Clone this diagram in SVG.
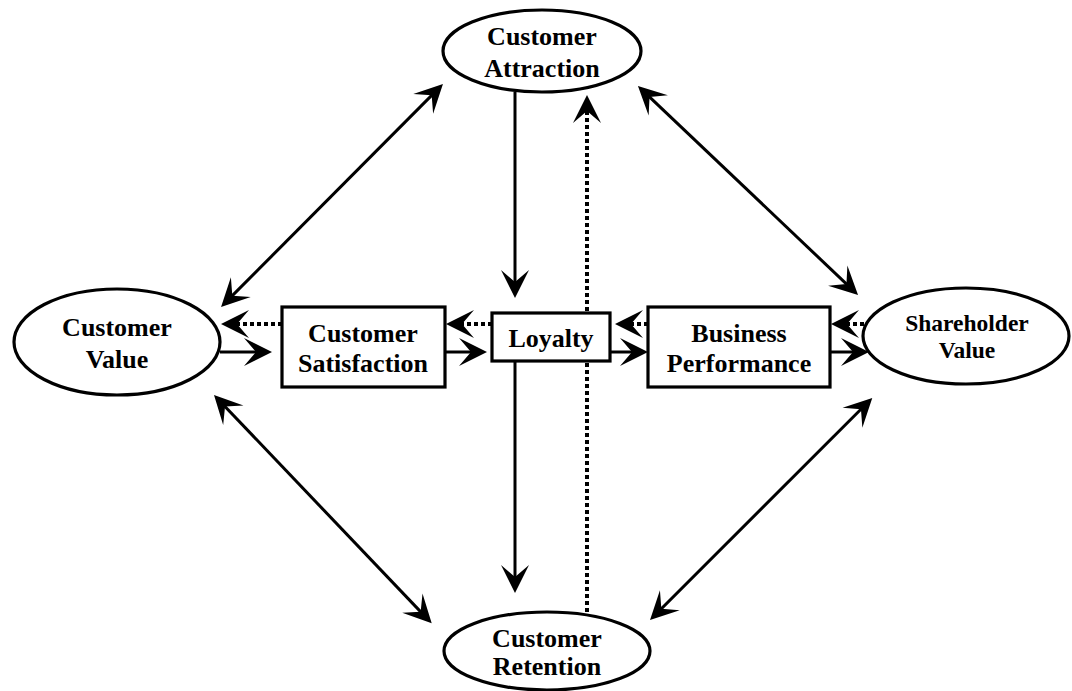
<svg xmlns="http://www.w3.org/2000/svg" width="1072" height="691" viewBox="0 0 1072 691">
<style>
.node{fill:#fff;stroke:#000;stroke-width:3.2}
.lbl{font-family:"Liberation Serif",serif;font-weight:700;font-size:26px;fill:#000;text-anchor:middle}
.sm{font-size:23.5px}
.solid{stroke:#000;stroke-width:3;fill:none}
.dot{stroke:#000;stroke-width:4;stroke-dasharray:4 3;fill:none}
.e{marker-end:url(#ah)}
.b{marker-start:url(#ah);marker-end:url(#ah)}
</style>
<defs>
<marker id="ah" markerUnits="userSpaceOnUse" viewBox="-22 -16 34 32" refX="0" refY="0" markerWidth="34" markerHeight="32" orient="auto-start-reverse">
<path d="M10,0 L-18,-14 L-6,0 L-18,14 Z" fill="#000"/>
</marker>
</defs>
<rect width="1072" height="691" fill="#fff"/>
<g id="connectors">
<path class="solid b" d="M228.1,299.9 L435.9,91.1"/>
<path class="solid b" d="M645.2,92.9 L850.8,288.1"/>
<path class="solid b" d="M220.9,402.2 L424.8,616.1"/>
<path class="solid b" d="M865.2,405.0 L657.1,613.0"/>
<path class="solid e" d="M515,92 L515,288"/>
<path class="solid e" d="M515,361 L515,583"/>
<path class="dot e" d="M587,612 L587,105"/>
<path class="solid e" d="M220,352 L262,352"/>
<path class="dot e" d="M282,324 L231,324"/>
<path class="solid e" d="M445,352 L477,352"/>
<path class="dot e" d="M492,324 L456,324"/>
<path class="solid e" d="M610,352 L638,352"/>
<path class="dot e" d="M648,324 L625,324"/>
<path class="solid e" d="M830,352 L859,352"/>
<path class="dot e" d="M864,324 L841,324"/>
</g>
<g id="customer-attraction">
<ellipse class="node" cx="542" cy="51" rx="99" ry="41"/>
<text class="lbl" x="542" y="45">Customer</text>
<text class="lbl" x="542" y="77">Attraction</text>
</g>
<g id="customer-retention">
<ellipse class="node" cx="547" cy="651" rx="103" ry="39"/>
<text class="lbl" x="547" y="647">Customer</text>
<text class="lbl" x="547" y="675">Retention</text>
</g>
<g id="customer-value">
<ellipse class="node" cx="117" cy="342" rx="103" ry="53"/>
<text class="lbl" x="117" y="336">Customer</text>
<text class="lbl" x="117" y="368">Value</text>
</g>
<g id="shareholder-value">
<ellipse class="node" cx="966" cy="336" rx="103" ry="48"/>
<text class="lbl sm" x="967" y="331">Shareholder</text>
<text class="lbl sm" x="967" y="358">Value</text>
</g>
<g id="customer-satisfaction">
<rect class="node" x="282" y="307" width="163" height="80"/>
<text class="lbl" x="363" y="342">Customer</text>
<text class="lbl" x="363" y="372">Satisfaction</text>
</g>
<g id="loyalty">
<rect class="node" x="492" y="313" width="118" height="48"/>
<text class="lbl" x="551" y="347">Loyalty</text>
</g>
<g id="business-performance">
<rect class="node" x="648" y="307" width="182" height="80"/>
<text class="lbl" x="739" y="342">Business</text>
<text class="lbl" x="739" y="372">Performance</text>
</g>
</svg>
